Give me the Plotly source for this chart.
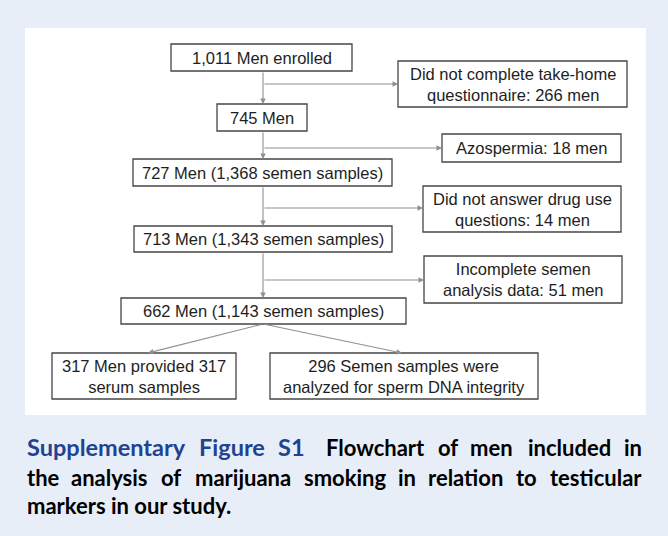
import plotly.graph_objects as go

# ---- data (text content) ----
main_labels = [
    "1,011 Men enrolled",
    "745 Men",
    "727 Men (1,368 semen samples)",
    "713 Men (1,343 semen samples)",
    "662 Men (1,143 semen samples)",
]
excl_labels = [
    "Did not complete take-home<br>questionnaire: 266 men",
    "Azospermia: 18 men",
    "Did not answer drug use<br>questions: 14 men",
    "Incomplete semen<br>analysis data: 51 men",
]
final_labels = [
    "317 Men provided 317<br>serum samples",
    "296 Semen samples were<br>analyzed for sperm DNA integrity",
]
caption_title_words = ["Supplementary", "Figure", "S1"]
caption_line1_words = ["Flowchart", "of", "men", "included", "in"]
caption_line2_words = ["the", "analysis", "of", "marijuana", "smoking", "in", "relation", "to", "testicular"]
caption_line3 = "markers in our study."

# ---- layout geometry (pixels, y downward) ----
W, H = 668, 536
BG = "#e7eef8"
main_boxes = [(171, 352, 44, 71), (217, 307, 104, 131), (133, 392, 159, 186),
              (134, 392, 226, 252), (121, 406, 298, 324)]
excl_boxes = [(398, 627, 61, 107), (442, 621, 134, 162), (423, 621, 186, 232), (424, 622, 256, 303)]
excl_y = [84, 148, 208, 280]
final_boxes = [(52, 236, 353, 399), (270, 538, 353, 399)]
final_tips = [(148, 353), (402, 353)]
spine_x = 263

# word centres for justified caption lines (first word left-anchored, last right-anchored)
line1_x = [25, 231.5, 291]
line1b_x = [375, 447.5, 491.5, 569, 644]
line2_x = [25, 109, 171, 242.5, 344.5, 406.5, 465, 526, 644]
cap_y = [447, 477, 505]

BOX_COL = "#454545"
LINE_COL = "#8f8f8f"
TXT_COL = "#1e1e1e"
FONT = "Liberation Sans, Arial, sans-serif"

fig = go.Figure()
shapes = []
annotations = []

# white panel
shapes.append(dict(type="rect", x0=25, x1=646, y0=28, y1=415, xref="x", yref="y",
                   fillcolor="white", line=dict(width=0), layer="below"))

def add_box(b, text):
    x0, x1, y0, y1 = b
    shapes.append(dict(type="rect", x0=x0, x1=x1, y0=y0, y1=y1, xref="x", yref="y",
                       fillcolor="white", line=dict(color=BOX_COL, width=1.3)))
    annotations.append(dict(x=(x0 + x1) / 2, y=(y0 + y1) / 2, xref="x", yref="y",
                            text=text, showarrow=False, xanchor="center", yanchor="middle",
                            font=dict(family=FONT, size=16.5, color=TXT_COL)))

def add_arrow(x_tail, y_tail, x_tip, y_tip):
    annotations.append(dict(x=x_tip, y=y_tip, ax=x_tail, ay=y_tail, xref="x", yref="y",
                            axref="x", ayref="y", text="", showarrow=True,
                            arrowhead=2, arrowsize=1.0, arrowwidth=1.1, arrowcolor=LINE_COL,
                            standoff=0, startstandoff=0))

for b, t in zip(main_boxes, main_labels):
    add_box(b, t)
for b, t in zip(excl_boxes, excl_labels):
    add_box(b, t)
for b, t in zip(final_boxes, final_labels):
    add_box(b, t)

# spine arrows
for upper, lower in zip(main_boxes[:-1], main_boxes[1:]):
    add_arrow(spine_x, upper[3], spine_x, lower[2])
# side branches
for b, yy in zip(excl_boxes, excl_y):
    add_arrow(spine_x, yy, b[0], yy)
# final split
for tx, ty in final_tips:
    add_arrow(spine_x, main_boxes[-1][3], tx, ty)

# caption
CAP_FONT = "Lato, Open Sans, sans-serif"
CAP_SIZE = 22
BLUE = "#1f4391"

def add_words(words, xs, y, color, size):
    for i, (w, x) in enumerate(zip(words, xs)):
        anchor = "center"
        if i == 0 and x <= 30:
            anchor = "left"
        if x >= 640:
            anchor = "right"
        annotations.append(dict(x=x, y=y, xref="x", yref="y", text="<b>%s</b>" % w, showarrow=False,
                                xanchor=anchor, yanchor="middle",
                                font=dict(family=CAP_FONT, size=size, color=color)))

add_words(caption_title_words, line1_x, cap_y[0], BLUE, 23.5)
add_words(caption_line1_words, line1b_x, cap_y[0], "black", CAP_SIZE)
add_words(caption_line2_words, line2_x, cap_y[1], "black", CAP_SIZE)
annotations.append(dict(x=25, y=cap_y[2], xref="x", yref="y", text="<b>%s</b>" % caption_line3,
                        showarrow=False, xanchor="left", yanchor="middle",
                        font=dict(family=CAP_FONT, size=CAP_SIZE, color="black")))

fig.update_layout(
    width=W, height=H,
    margin=dict(l=0, r=0, t=0, b=0),
    paper_bgcolor=BG, plot_bgcolor="rgba(0,0,0,0)",
    xaxis=dict(range=[0, W], visible=False, fixedrange=True),
    yaxis=dict(range=[H, 0], visible=False, fixedrange=True),
    shapes=shapes, annotations=annotations, showlegend=False,
)
fig.write_html("out.html", config={"displayModeBar": False},
               post_script="document.body.style.margin='0';document.body.style.background='%s';"
                           "document.body.style.overflow='hidden';" % BG)
